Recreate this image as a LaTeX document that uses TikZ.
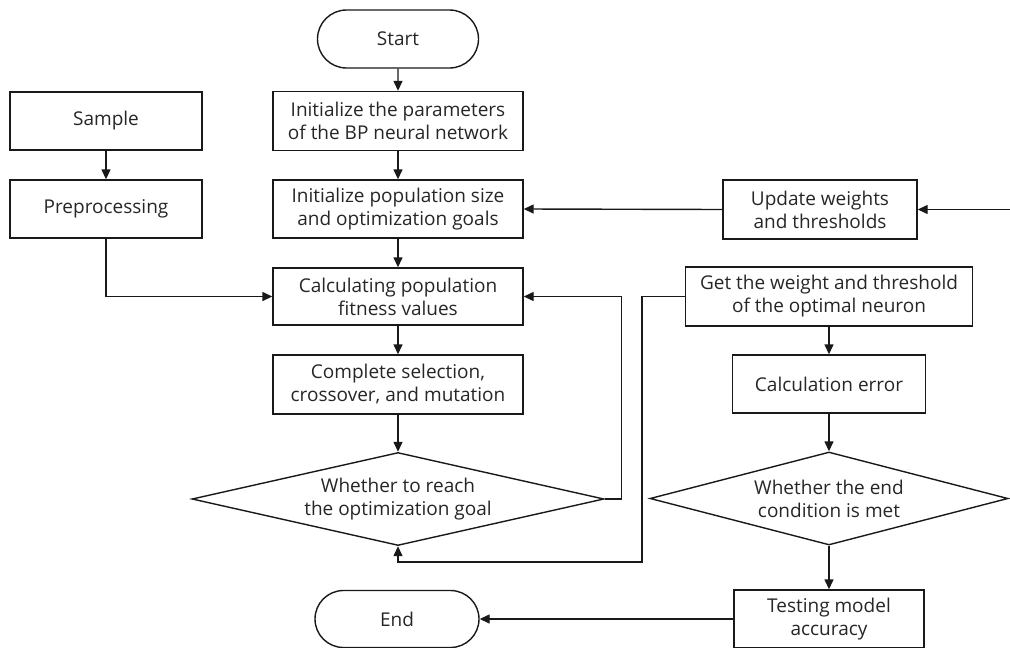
\documentclass[tikz,border=0pt]{standalone}
\usepackage{fontspec}
\setmainfont{Open Sans}
\usetikzlibrary{shapes.geometric,shapes.misc,arrows.meta}
\begin{document}
\begin{tikzpicture}[x=1pt,y=-1pt,
  every node/.style={font=\fontsize{19}{23}\selectfont, text=black!85},
  box/.style={draw=black!90, line width=1.4pt, rectangle, align=center, inner sep=0pt},
  pill/.style={draw=black!90, line width=1.4pt, rounded rectangle, align=center, inner sep=0pt},
  dia/.style={draw=black!90, line width=1.4pt, diamond, aspect=4.4, align=center, inner sep=0pt},
  arr/.style={draw=black!90, line width=1.4pt, -{Triangle[length=10pt,width=9pt]}},
  ln/.style={draw=black!90, line width=1.4pt}
]
\useasboundingbox (0,0) rectangle (1010,648);

\node[pill, minimum width=161, minimum height=58] (start) at (398,39) {Start};
\node[box, minimum width=250, minimum height=59] (initp) at (398,121) {Initialize the parameters\\of the BP neural network};
\node[box, minimum width=250, minimum height=58] (initpop) at (398,209) {Initialize population size\\and optimization goals};
\node[box, minimum width=250, minimum height=57] (calc) at (398,296.5) {Calculating population\\fitness values};
\node[box, minimum width=250, minimum height=59] (comp) at (398,384.5) {Complete selection,\\crossover, and mutation};
\node[dia, minimum width=412, minimum height=93] (dl) at (398,499) {Whether to reach\\the optimization goal};

\node[box, minimum width=192, minimum height=58] (sample) at (106,121) {Sample};
\node[box, minimum width=192, minimum height=58] (prep) at (106,209) {Preprocessing};

\node[box, minimum width=194, minimum height=59] (upd) at (820,209.5) {Update weights\\and thresholds};
\node[box, minimum width=287, minimum height=59] (get) at (829,296.5) {Get the weight and threshold\\of the optimal neuron};
\node[box, minimum width=193, minimum height=58] (err) at (829,384) {Calculation error};
\node[dia, aspect=3.85, minimum width=358, minimum height=93] (dr) at (829,498.5) {Whether the end\\condition is met};
\node[box, minimum width=190, minimum height=58] (test) at (829,619) {Testing model\\accuracy};
\node[pill, minimum width=164, minimum height=57] (end) at (397,619) {End};

\coordinate (redge) at (1012,209.5);
\coordinate (g1) at (642,562);

\draw[arr] (start) -- (initp);
\draw[arr] (initp) -- (initpop);
\draw[arr] (initpop) -- (calc);
\draw[arr] (calc) -- (comp);
\draw[arr] (comp) -- (dl);
\draw[arr] (sample) -- (prep);
\draw[arr] (prep.south) |- (calc.west);
\draw[arr] (upd.west) -- (initpop.east);
\draw[arr] (redge) -- (upd.east);
\draw[arr] (dl.east) -- ++(17,0) |- (calc.east);
\draw[arr] (get.west) -| (g1) -| (dl.south);
\draw[arr] (get) -- (err);
\draw[arr] (err) -- (dr);
\draw[arr] (dr) -- (test);
\draw[arr] (test.west) -- (end.east);
\end{tikzpicture}
\end{document}
